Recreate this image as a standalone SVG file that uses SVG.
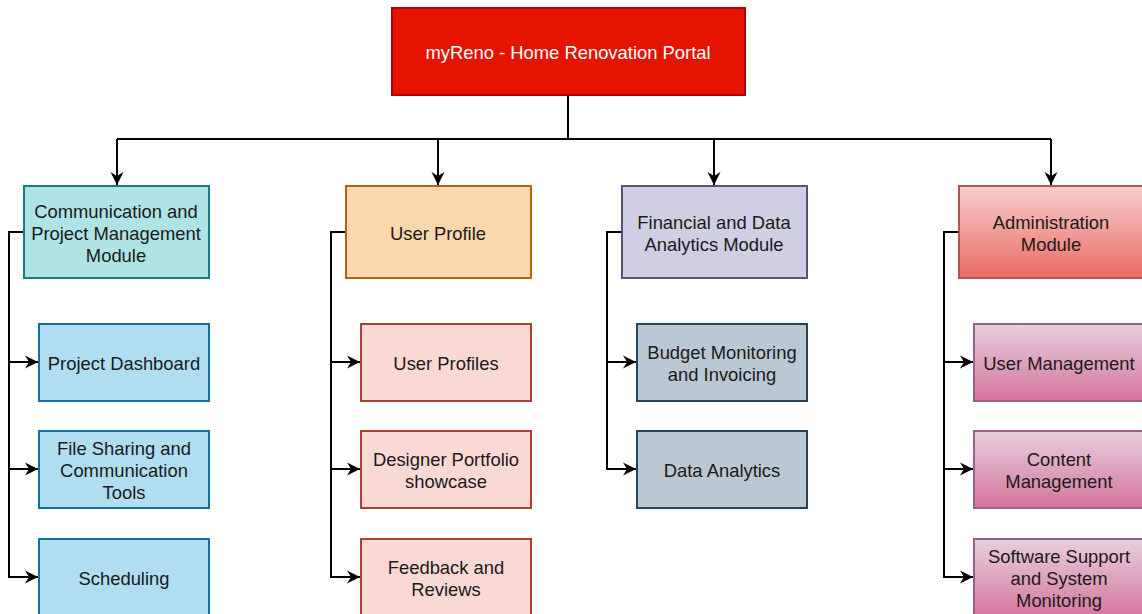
<svg xmlns="http://www.w3.org/2000/svg" width="1142" height="614" viewBox="0 0 1142 614">
<style>
text{font-family:"Liberation Sans",Arial,sans-serif;font-size:18.4px;fill:#1a1a1a;text-anchor:middle;dominant-baseline:central}
.c{fill:none;stroke:#000;stroke-width:2}
rect{stroke-width:2}
.root{fill:#e51400;stroke:#b20000}
.l1a{fill:#b0e3e6;stroke:#0e8088}
.l1b{fill:#fad7ac;stroke:#b46504}
.l1c{fill:#d0cee2;stroke:#56517e}
.l1d{fill:url(#gRed);stroke:#b85450}
.l2a{fill:#b1ddf0;stroke:#10739e}
.l2b{fill:#fad9d5;stroke:#ae4132}
.l2c{fill:#bac8d3;stroke:#23445d}
.l2d{fill:url(#gPink);stroke:#996185}
</style>
<defs>
<linearGradient id="gRed" x1="0" y1="0" x2="0" y2="1"><stop offset="0" stop-color="#f8cecc"/><stop offset="1" stop-color="#ea6b66"/></linearGradient>
<linearGradient id="gPink" x1="0" y1="0" x2="0" y2="1"><stop offset="0" stop-color="#e6d0de"/><stop offset="1" stop-color="#d5739d"/></linearGradient>
<marker id="arr" markerUnits="userSpaceOnUse" markerWidth="16" markerHeight="14" refX="13" refY="7" orient="auto"><path d="M0,0.5 L13,7 L0,13.5 L4,7 z" fill="#000"/></marker>
</defs>
<rect width="1142" height="614" fill="#fff"/>
<g id="connectors">
<path class="c" d="M568,95 V139"/>
<path class="c" d="M117,139 H1051"/>
<path class="c" d="M117,139 V185" marker-end="url(#arr)"/>
<path class="c" d="M438,139 V185" marker-end="url(#arr)"/>
<path class="c" d="M714,139 V185" marker-end="url(#arr)"/>
<path class="c" d="M1051,139 V185" marker-end="url(#arr)"/>
<path class="c" d="M24,232 H9 V577 H38" marker-end="url(#arr)"/>
<path class="c" d="M9,362 H38" marker-end="url(#arr)"/>
<path class="c" d="M9,469 H38" marker-end="url(#arr)"/>
<path class="c" d="M346,232 H331 V577 H360" marker-end="url(#arr)"/>
<path class="c" d="M331,362 H360" marker-end="url(#arr)"/>
<path class="c" d="M331,469 H360" marker-end="url(#arr)"/>
<path class="c" d="M622,232 H607 V469 H636" marker-end="url(#arr)"/>
<path class="c" d="M607,362 H636" marker-end="url(#arr)"/>
<path class="c" d="M959,232 H944 V577 H973" marker-end="url(#arr)"/>
<path class="c" d="M944,362 H973" marker-end="url(#arr)"/>
<path class="c" d="M944,469 H973" marker-end="url(#arr)"/>
</g>
<g id="root"><rect class="root" x="392" y="8" width="353" height="87"/><text x="568" y="52" style="fill:#fff">myReno - Home Renovation Portal</text></g>
<g id="comm"><rect class="l1a" x="24" y="186" width="185" height="92"/><text x="116" y="211">Communication and</text><text x="116" y="233">Project Management</text><text x="116" y="255">Module</text></g>
<g id="userprofile"><rect class="l1b" x="346" y="186" width="185" height="92"/><text x="438" y="233">User Profile</text></g>
<g id="financial"><rect class="l1c" x="622" y="186" width="185" height="92"/><text x="714" y="222">Financial and Data</text><text x="714" y="244">Analytics Module</text></g>
<g id="admin"><rect class="l1d" x="959" y="186" width="185" height="92"/><text x="1051" y="222">Administration</text><text x="1051" y="244">Module</text></g>
<g id="dashboard"><rect class="l2a" x="39" y="324" width="170" height="77"/><text x="124" y="363">Project Dashboard</text></g>
<g id="filesharing"><rect class="l2a" x="39" y="431" width="170" height="77"/><text x="124" y="448">File Sharing and</text><text x="124" y="470">Communication</text><text x="124" y="492">Tools</text></g>
<g id="scheduling"><rect class="l2a" x="39" y="539" width="170" height="80"/><text x="124" y="578">Scheduling</text></g>
<g id="userprofiles"><rect class="l2b" x="361" y="324" width="170" height="77"/><text x="446" y="363">User Profiles</text></g>
<g id="portfolio"><rect class="l2b" x="361" y="431" width="170" height="77"/><text x="446" y="459">Designer Portfolio</text><text x="446" y="481">showcase</text></g>
<g id="feedback"><rect class="l2b" x="361" y="539" width="170" height="80"/><text x="446" y="567">Feedback and</text><text x="446" y="589">Reviews</text></g>
<g id="budget"><rect class="l2c" x="637" y="324" width="170" height="77"/><text x="722" y="352">Budget Monitoring</text><text x="722" y="374">and Invoicing</text></g>
<g id="analytics"><rect class="l2c" x="637" y="431" width="170" height="77"/><text x="722" y="470">Data Analytics</text></g>
<g id="usermgmt"><rect class="l2d" x="974" y="324" width="170" height="77"/><text x="1059" y="363">User Management</text></g>
<g id="contentmgmt"><rect class="l2d" x="974" y="431" width="170" height="77"/><text x="1059" y="459">Content</text><text x="1059" y="481">Management</text></g>
<g id="support"><rect class="l2d" x="974" y="539" width="170" height="80"/><text x="1059" y="556">Software Support</text><text x="1059" y="578">and System</text><text x="1059" y="600">Monitoring</text></g>
</svg>
